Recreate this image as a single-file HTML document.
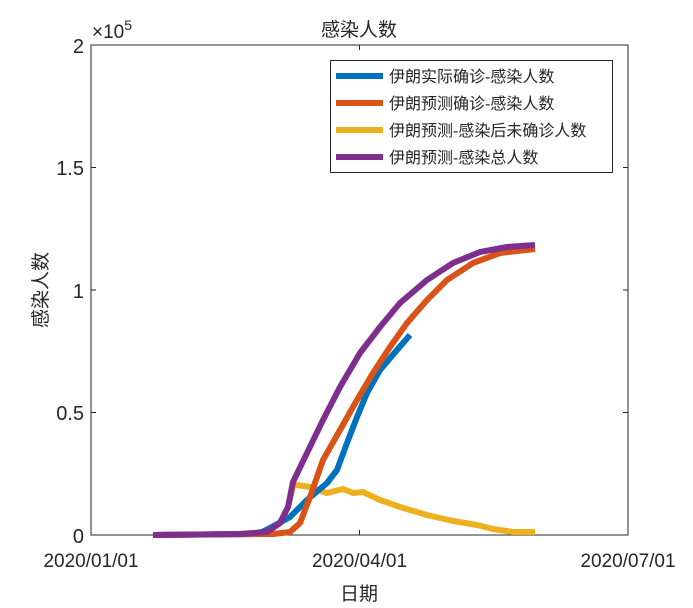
<!DOCTYPE html>
<html><head><meta charset="utf-8"><style>body{margin:0;background:#fff}svg{display:block}</style></head><body>
<svg width="693" height="608" viewBox="0 0 693 608" xmlns="http://www.w3.org/2000/svg" font-family="'Liberation Sans','Noto Sans CJK SC',sans-serif">
<rect width="693" height="608" fill="#fff"/>
<g stroke="#262626" stroke-width="1" fill="none">
<rect x="91" y="45" width="537" height="490"/>
<path d="M91 412.5h5M91 290h5M91 167.5h5M628 412.5h-5M628 290h-5M628 167.5h-5M359.5 535v-5M359.5 45v5"/>
</g>
<g fill="#262626" font-size="20" text-anchor="end">
<text x="84" y="543">0</text><text x="84" y="420">0.5</text><text x="84" y="298">1</text><text x="84" y="175">1.5</text><text x="84" y="53">2</text>
</g>
<text x="92" y="38" font-size="19" fill="#262626">×10<tspan font-size="14" dy="-8">5</tspan></text>
<g fill="#262626" font-size="19" text-anchor="middle" textLength="100">
<text x="91" y="567">2020/01/01</text><text x="359.5" y="567">2020/04/01</text><text x="628" y="567">2020/07/01</text>
</g>
<text x="359" y="36" font-size="19" text-anchor="middle" fill="#262626">感染人数</text>
<text x="359" y="600" font-size="19" text-anchor="middle" fill="#262626">日期</text>
<text transform="translate(47,290) rotate(-90)" font-size="19" text-anchor="middle" fill="#262626">感染人数</text>
<g fill="none" stroke-width="6" stroke-linejoin="round" stroke-linecap="butt">
<polyline stroke="#EDB120" points="153,535 240,534 267,532 280,523 288,507 293,486 297,485 310,487 327,493 343,489 353,493 363,492 380,500 400,507 427,515 453,521 477,525 493,529 513,532 535,532"/>
<polyline stroke="#0072BD" points="153,535 250,534 262,532 270,528 290,517 307,500 327,483 337,470 347,443 357,417 367,393 380,370 397,350 410,335"/>
<polyline stroke="#D95319" points="153,535 273,534 290,532 300,523 310,497 323,460 340,430 357,400 373,373 390,347 407,323 427,300 447,280 473,263 500,253 535,249"/>
<polyline stroke="#7E2F8E" points="153,535 240,534 267,532 280,523 288,507 293,482 307,453 323,420 340,387 360,353 380,327 400,303 427,280 453,263 480,252 507,247 535,245"/>
</g>
<rect x="330.5" y="60.5" width="282" height="112" fill="#fff" stroke="#262626"/>
<g stroke-width="6">
<line x1="336" y1="76" x2="383" y2="76" stroke="#0072BD"/>
<line x1="336" y1="103" x2="383" y2="103" stroke="#D95319"/>
<line x1="336" y1="130" x2="383" y2="130" stroke="#EDB120"/>
<line x1="336" y1="157" x2="383" y2="157" stroke="#7E2F8E"/>
</g>
<g font-size="16" fill="#262626">
<text x="389" y="82">伊朗实际确诊-感染人数</text>
<text x="389" y="109">伊朗预测确诊-感染人数</text>
<text x="389" y="136">伊朗预测-感染后未确诊人数</text>
<text x="389" y="163">伊朗预测-感染总人数</text>
</g>
</svg>
</body></html>
